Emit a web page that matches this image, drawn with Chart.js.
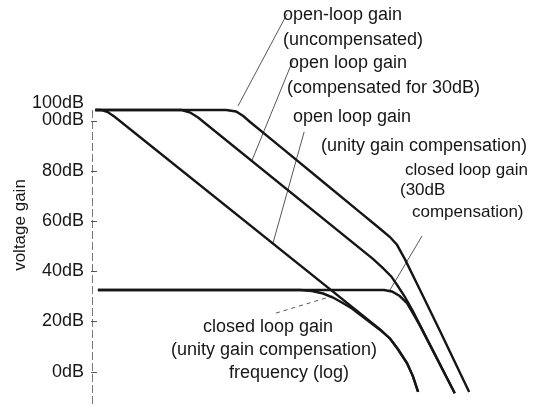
<!DOCTYPE html>
<html>
<head>
<meta charset="utf-8">
<script src="https://cdn.jsdelivr.net/npm/chart.js@4/dist/chart.umd.min.js"></script>
<style>
  html, body { margin: 0; padding: 0; background: #fff; }
  #wrap { position: relative; width: 534px; height: 406px; }
</style>
</head>
<body>
<div id="wrap"><canvas id="chart"></canvas></div>
<script>
// x = log frequency (decades from the gain axis), y = voltage gain in dB
const openUncompX  = [0.05, 2.05, 2.2, 2.31, 2.41, 2.87, 3.48, 4.09, 4.32, 4.44, 4.55, 4.66, 4.78, 5.01, 5.32, 5.76];
const openUncompDb = [104.2, 104.2, 103.6, 101.8, 99.5, 89.7, 76.6, 63.5, 58.6, 56.0, 53.6, 50.4, 44.7, 32.5, 15.9, -8.1];

const open30X  = [0.05, 1.37, 1.5, 1.62, 4.29, 4.44, 4.57, 4.67, 4.78, 4.9, 5.54];
const open30Db = [104.2, 104.2, 103.2, 101.2, 44.9, 41.3, 37.9, 34.1, 29.7, 24.1, -8.6];

const openUnityX  = [0.05, 0.14, 0.24, 0.35, 4.4, 4.55, 4.67, 4.81, 4.9, 4.98];
const openUnityDb = [104.2, 104.2, 103.4, 101.4, 16.8, 13.2, 9.0, 3.4, -1.8, -8.1];

const closed30X  = [0.09, 4.46, 4.58, 4.7, 4.81, 4.9, 5.01, 5.54];
const closed30Db = [32.5, 32.5, 31.9, 30.1, 27.3, 23.3, 18.2, -8.6];

const closedUnityX  = [0.09, 3.18, 3.36, 3.53, 3.68, 3.83, 3.97, 4.4, 4.55, 4.67, 4.81, 4.9, 4.98];
const closedUnityDb = [32.5, 32.5, 32.1, 31.1, 29.5, 27.3, 25.1, 16.6, 13.2, 9.0, 3.4, -1.8, -8.1];

// label leader lines: [x1, dB1, x2, dB2]
const leaderUncomp      = [2.23, 105.8, 2.98, 142.5];
const leader30          = [3.07, 124.1, 2.44, 83.9];
const leaderUnity       = [3.24, 95.5, 2.76, 50.8];
const leaderClosed30    = [5.04, 54.0, 4.55, 32.5];
const leaderClosedUnity = [2.81, 23.3, 3.67, 30.1];

const yTickValues = [0, 20, 40, 60, 80, 100, 107];
const yTickLabels = ['0dB', '20dB', '40dB', '60dB', '80dB', '00dB', '100dB'];
const axisMarks = [0, 20, 40, 60, 80, 100];
const axisTopDb = 104.2;

const FONT = '"Liberation Sans", Arial, sans-serif';
const INK = '#161616';

const zip = (xs, ys) => xs.map((x, i) => ({ x, y: ys[i] }));
const seg = l => [{ x: l[0], y: l[1] }, { x: l[2], y: l[3] }];

function curve(xs, ys) {
  return { data: zip(xs, ys), borderColor: INK, borderWidth: 2.4, pointRadius: 0, tension: 0 };
}
function leader(l, dash) {
  return { data: seg(l), borderColor: '#444', borderWidth: 0.9, pointRadius: 0, borderDash: dash || [] };
}

// [text, x, y, size, align]
const textLabels = [
  ['open-loop gain', 283, 15, 18, 'left'],
  ['(uncompensated)', 283, 40, 18, 'left'],
  ['open loop gain', 289, 63, 18, 'left'],
  ['(compensated for 30dB)', 287, 88, 18, 'left'],
  ['open loop gain', 293, 117, 18, 'left'],
  ['(unity gain compensation)', 527, 146, 18, 'right'],
  ['closed loop gain', 405, 170, 17, 'left'],
  ['(30dB', 400, 190, 17, 'left'],
  ['compensation)', 412, 212, 17, 'left'],
  ['closed loop gain', 203, 327, 18, 'left'],
  ['(unity gain compensation)', 377, 350, 18, 'right'],
  ['frequency (log)', 289, 373, 18, 'center']
];

const decor = {
  id: 'decor',
  afterDraw(chart) {
    const { ctx, chartArea, scales: { y } } = chart;
    const ax = chartArea.left;
    ctx.save();
    // gain axis
    ctx.strokeStyle = '#777';
    ctx.lineWidth = 1;
    ctx.setLineDash([8, 3]);
    ctx.beginPath();
    ctx.moveTo(ax + 0.5, y.getPixelForValue(axisTopDb));
    ctx.lineTo(ax + 0.5, chartArea.bottom);
    ctx.stroke();
    ctx.setLineDash([]);
    ctx.strokeStyle = '#555';
    axisMarks.forEach(v => {
      const py = Math.round(y.getPixelForValue(v)) + 0.5;
      ctx.beginPath();
      ctx.moveTo(ax - 1, py);
      ctx.lineTo(ax + 5, py);
      ctx.stroke();
    });
    // texts
    ctx.fillStyle = INK;
    ctx.textBaseline = 'middle';
    textLabels.forEach(([t, x, yy, size, align]) => {
      ctx.font = size + 'px ' + FONT;
      ctx.textAlign = align;
      ctx.fillText(t, x, yy);
    });
    ctx.translate(20, 225);
    ctx.rotate(-Math.PI / 2);
    ctx.textAlign = 'center';
    ctx.font = '17px ' + FONT;
    ctx.fillText('voltage gain', 0, 0);
    ctx.restore();
  }
};

new Chart(document.getElementById('chart'), {
  type: 'line',
  data: {
    datasets: [
      curve(openUncompX, openUncompDb),
      curve(open30X, open30Db),
      curve(openUnityX, openUnityDb),
      curve(closed30X, closed30Db),
      curve(closedUnityX, closedUnityDb),
      leader(leaderUncomp),
      leader(leader30),
      leader(leaderUnity),
      leader(leaderClosed30),
      leader(leaderClosedUnity, [4, 4])
    ]
  },
  options: {
    responsive: true,
    maintainAspectRatio: false,
    animation: false,
    layout: { padding: 0 },
    plugins: { legend: { display: false }, tooltip: { enabled: false } },
    scales: {
      x: { type: 'linear', min: 0, max: 6.75, display: false },
      y: {
        type: 'linear', min: -13.7, max: 148,
        grid: { display: false, drawTicks: false },
        border: { display: false },
        afterBuildTicks: s => { s.ticks = yTickValues.map(v => ({ value: v })); },
        // keep the plot area on the whole canvas height, axis at x = 92
        afterFit: s => { s.width = 92; s.paddingTop = 0; s.paddingBottom = 0; },
        ticks: {
          padding: 8,
          color: INK,
          font: { family: FONT, size: 18 },
          callback: v => yTickLabels[yTickValues.indexOf(v)]
        }
      }
    }
  },
  plugins: [decor]
});
</script>
</body>
</html>
